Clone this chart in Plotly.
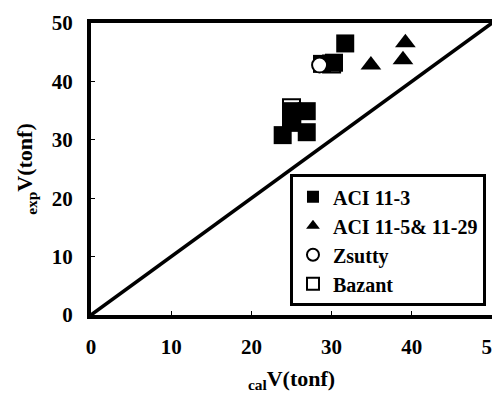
import plotly.graph_objects as go

# ACI 11-3 (filled squares)
aci113_x = [23.9, 25.1, 26.9, 26.9, 25.1, 28.8, 30.3, 31.7]
aci113_y = [30.8, 32.9, 31.3, 34.9, 34.9, 43.0, 43.2, 46.5]
# ACI 11-5 & 11-29 (filled triangles)
aci115_x = [34.9, 39.2, 38.9]
aci115_y = [42.8, 46.6, 43.7]
# Zsutty (open circle)
zsutty_x = [28.5]
zsutty_y = [42.8]
# Bazant (open squares)
bazant_x = [25.0, 25.0, 30.0]
bazant_y = [35.5, 33.5, 43.0]

ticks = [0, 10, 20, 30, 40, 50]
line_xy = [0, 50]

FONT = "Liberation Serif"
TXT = dict(family=FONT, color="black", weight="bold")

fig = go.Figure()
fig.add_trace(go.Scatter(x=line_xy, y=line_xy, mode="lines",
                         line=dict(color="black", width=3.5),
                         showlegend=False, hoverinfo="skip"))
fig.add_trace(go.Scatter(x=bazant_x, y=bazant_y, mode="markers", name="Bazant",
                         marker=dict(symbol="square-open", size=17, color="black",
                                     line=dict(width=2, color="black")),
                         legendrank=4))
fig.add_trace(go.Scatter(x=aci113_x, y=aci113_y, mode="markers", name="ACI 11-3",
                         marker=dict(symbol="square", size=18, color="black"),
                         legendrank=1))
fig.add_trace(go.Scatter(x=aci115_x, y=aci115_y, mode="markers", name="ACI 11-5& 11-29",
                         marker=dict(symbol="triangle-up", size=18, color="black"),
                         legendrank=2))
fig.add_trace(go.Scatter(x=zsutty_x, y=zsutty_y, mode="markers", name="Zsutty",
                         marker=dict(symbol="circle", size=15, color="white",
                                     line=dict(width=2, color="black")),
                         legendrank=3))

axis_common = dict(
    range=[0, 50], tickvals=ticks, ticks="inside", ticklen=4, tickwidth=1,
    tickcolor="black", showgrid=False, zeroline=False, showline=True,
    linecolor="black", linewidth=4, mirror=True, ticklabelstandoff=10,
    automargin=False,
    tickfont=dict(size=21, **TXT),
)

fig.update_layout(
    width=500, height=401,
    font=dict(family=FONT, color="black"),
    margin=dict(l=83, r=16, t=15, b=94),
    paper_bgcolor="white", plot_bgcolor="white",
    xaxis=dict(**axis_common,
               title=dict(text="<sub>cal</sub>V(tonf)", standoff=13, font=dict(size=22, **TXT))),
    yaxis=dict(**axis_common,
               title=dict(text="<sub>exp</sub>V(tonf)", standoff=14, font=dict(size=22, **TXT))),
    legend=dict(x=0.985, xanchor="right", y=0.03, yanchor="bottom",
                bgcolor="white", bordercolor="black", borderwidth=3,
                font=dict(size=20, **TXT),
                itemwidth=30, tracegroupgap=0, itemsizing="constant"),
    showlegend=True,
)

fig.write_html("out.html")
